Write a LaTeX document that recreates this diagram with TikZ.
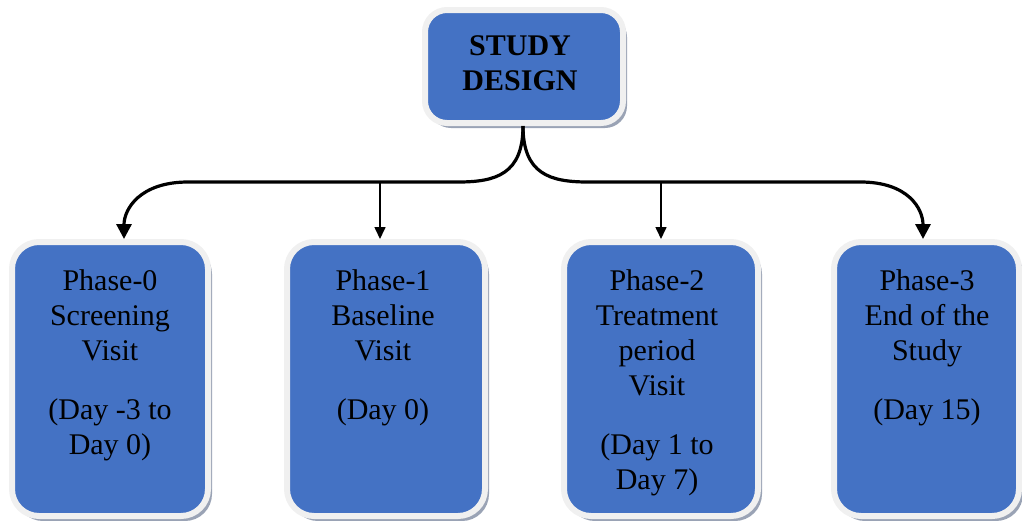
\documentclass[tikz,border=0pt]{standalone}
\usepackage{fontspec}
\setmainfont{Liberation Serif}
\usetikzlibrary{shadows,arrows.meta}
\definecolor{boxblue}{HTML}{4472C4}
\definecolor{rimgray}{HTML}{F0F0F0}
\definecolor{shadowgray}{HTML}{9AA3B5}
\tikzset{
  box/.style={shape=rectangle, rounded corners=27pt, fill=boxblue, draw=rimgray,
    line width=6pt, inner sep=0pt,
    drop shadow={shadow xshift=4pt, shadow yshift=-5pt, fill=shadowgray, opacity=1}},
  boxtext/.style={anchor=north, align=center, inner sep=0pt,
    font=\fontsize{30}{35}\selectfont, text=black},
  bigconn/.style={draw=black, line width=3.2pt, -{Triangle[width=15pt,length=15pt]}},
  smallconn/.style={draw=black, line width=1.6pt, -{Triangle[width=11pt,length=12pt]}},
  joinline/.style={draw=black, line width=3.2pt},
}
\begin{document}
\begin{tikzpicture}[x=1pt,y=-1pt]
\useasboundingbox (0,0) rectangle (1022,520);
% top box
\node[box, rounded corners=22pt, minimum width=198pt, minimum height=113pt] (top) at (524,66.5) {};
\node[anchor=center, align=center, inner sep=0pt, font=\fontsize{30}{35}\selectfont\bfseries] (toptext) at (520,63) {STUDY\\DESIGN};
% bottom boxes
\node[box, minimum width=196pt, minimum height=274pt] (p0) at (110,379) {};
\node[box, minimum width=198pt, minimum height=274pt] (p1) at (386,379) {};
\node[box, minimum width=194pt, minimum height=274pt] (p2) at (661,379) {};
\node[box, minimum width=185pt, minimum height=274pt] (p3) at (926.5,379) {};
% texts
\node[boxtext] (t0) at (110,269) {Phase-0\\Screening\\Visit\\[24pt](Day -3 to\\Day 0)};
\node[boxtext] (t1) at (383,269) {Phase-1\\Baseline\\Visit\\[24pt](Day 0)};
\node[boxtext] (t2) at (657,269) {Phase-2\\Treatment\\period\\Visit\\[24pt](Day 1 to\\Day 7)};
\node[boxtext] (t3) at (927,269) {Phase-3\\End of the\\Study\\[24pt](Day 15)};
% connectors
\coordinate (jl) at (458,182);
\coordinate (jr) at (588,182);
\draw[bigconn] ([xshift=-1pt]top.south) .. controls +(0,48) and +(38,0) .. (jl)
  -- ([xshift=78pt]p0.north |- jl) .. controls +(-48,0) and +(0,-30) .. ([xshift=14pt]p0.north);
\draw[bigconn] ([xshift=-1pt]top.south) .. controls +(0,48) and +(-38,0) .. (jr)
  -- ([xshift=-66pt]p3.north |- jr) .. controls +(48,0) and +(0,-30) .. ([xshift=-3.5pt]p3.north);
\draw[smallconn] ([xshift=-6pt]p1.north |- jl) -- ([xshift=-6pt]p1.north);
\draw[smallconn] (p2.north |- jr) -- (p2.north);
\end{tikzpicture}
\end{document}
